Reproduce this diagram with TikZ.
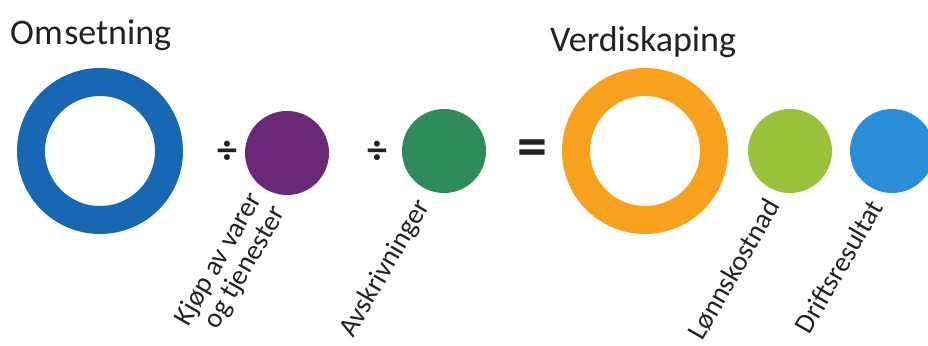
\documentclass[tikz,border=0pt]{standalone}
\usepackage{fontspec}
\setmainfont{Carlito}
\definecolor{cRingBlue}{HTML}{1767B2}
\definecolor{cPurple}{HTML}{6A2878}
\definecolor{cGreen}{HTML}{2F8A5A}
\definecolor{cOrange}{HTML}{F7A11F}
\definecolor{cLime}{HTML}{98C23B}
\definecolor{cSky}{HTML}{2A8DD8}
\definecolor{cText}{HTML}{222222}
\begin{document}
\begin{tikzpicture}[x=1pt,y=1pt,
  ring/.style={circle,draw=#1,line width=28pt,minimum size=138pt,inner sep=0pt},
  dot/.style={circle,fill=#1,minimum size=84pt,inner sep=0pt},
  title/.style={font=\fontsize{36}{40}\selectfont,text=cText,inner sep=0pt,anchor=base west},
  lbl/.style={font=\fontsize{28}{27}\selectfont,text=cText,inner sep=0pt,rotate=60},
  op/.style={font=\bfseries\fontsize{40}{44}\selectfont,text=cText,inner sep=0pt}
]
\useasboundingbox (0,0) rectangle (928,345);
\clip (0,0) rectangle (928,345);
% titles
\node[title] (t1) at (10,300) {Om\kern1.5pt setning};
\node[title] (t2) at (550,293) {Verdiskaping};
% circles
\node[ring=cRingBlue] (oms) at (100,194) {};
\node[dot=cPurple] (kjop) at (287,192) {};
\node[dot=cGreen] (avs) at (444,194) {};
\node[ring=cOrange] (verd) at (645,194) {};
\node[dot=cLime] (lonn) at (790,194) {};
\node[dot=cSky] (drift) at (892,194) {};
% operators
\node[op] (div1) at (227,193) {÷};
\node[op] (div2) at (377,193) {÷};
\node[op,font=\bfseries\fontsize{60}{64}\selectfont] (eq) at (532,192) {=};
% labels
\node[lbl,anchor=east,align=right] (l1) at (268,143) {Kjøp av varer\\og tjenester};
\node[lbl,anchor=base east] (l2) at (430,139) {Avskrivninger};
\node[lbl,anchor=base east] (l3) at (781,139) {Lønnskostnad};
\node[lbl,anchor=base east] (l4) at (884,138) {Driftsresultat};
\end{tikzpicture}
\end{document}
